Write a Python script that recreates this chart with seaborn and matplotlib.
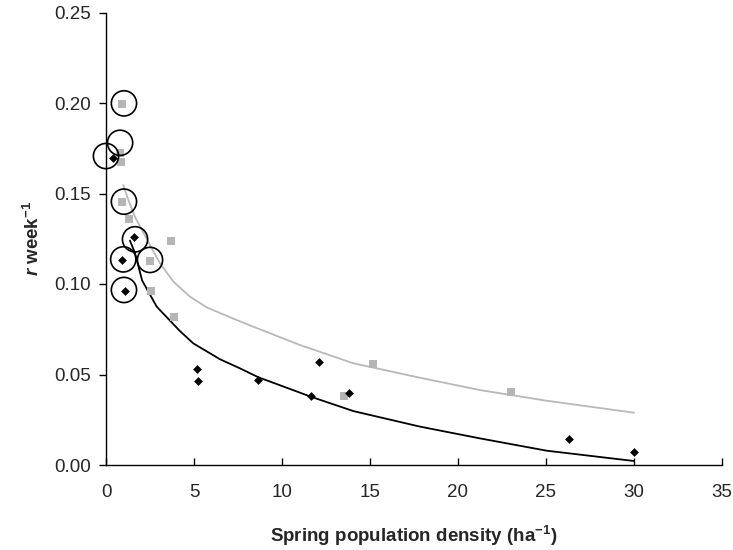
import matplotlib
matplotlib.use("Agg")
import matplotlib.pyplot as plt
import seaborn as sns
from matplotlib.ticker import FormatStrFormatter

# ---- data ----
gray_x = [0.93, 0.80, 0.87, 0.93, 1.32, 3.71, 2.52, 2.57, 3.88, 15.19, 13.54, 23.03]
gray_y = [0.1994, 0.1725, 0.1674, 0.1453, 0.1357, 0.1239, 0.1129, 0.0963, 0.0819, 0.0558, 0.0383, 0.0402]

black_x = [0.41, 1.61, 0.93, 1.06, 5.15, 5.24, 8.62, 12.12, 11.65, 13.82, 26.32, 30.0]
black_y = [0.1696, 0.1261, 0.1133, 0.0961, 0.0530, 0.0462, 0.0470, 0.0569, 0.0383, 0.0398, 0.0145, 0.0073]

circle_x = [1.02, 0.80, 0.00, 1.02, 1.65, 0.98, 2.50, 1.02]
circle_y = [0.1998, 0.1780, 0.1707, 0.1455, 0.1247, 0.1136, 0.1133, 0.0967]

gray_curve_x = [0.98, 1.27, 1.65, 2.5, 3.07, 3.83, 4.77, 5.72, 7.05, 8.37, 11.02, 14.05, 17.84, 21.25, 25.04, 30.0]
gray_curve_y = [0.1547, 0.1464, 0.137, 0.1215, 0.1114, 0.1013, 0.093, 0.0871, 0.0816, 0.0764, 0.0663, 0.0562, 0.0482, 0.0414, 0.0355, 0.0289]

black_curve_x = [1.36, 1.65, 2.05, 2.88, 4.2, 4.96, 6.48, 7.61, 8.65, 11.65, 14.05, 17.84, 21.25, 25.04, 30.0]
black_curve_y = [0.124, 0.117, 0.102, 0.0875, 0.074, 0.0672, 0.0584, 0.0534, 0.0485, 0.0377, 0.0298, 0.0212, 0.0147, 0.0079, 0.0022]

x_ticks = [0, 5, 10, 15, 20, 25, 30, 35]
y_ticks = [0.00, 0.05, 0.10, 0.15, 0.20, 0.25]

# ---- style ----
sns.set_theme(style="white")
plt.rcParams['font.family'] = ['Liberation Sans', 'DejaVu Sans']
plt.rcParams['mathtext.fontset'] = 'custom'
plt.rcParams['mathtext.rm'] = 'Liberation Sans:bold'
plt.rcParams['mathtext.it'] = 'Liberation Sans:italic:bold'
plt.rcParams['mathtext.bf'] = 'Liberation Sans:bold'

fig = plt.figure(figsize=(7.33, 5.5), dpi=100)
ax = fig.add_axes([106 / 733, 1 - 465 / 550, (722 - 106) / 733, (465 - 12.5) / 550])

gray = "#b5b5b5"

sns.lineplot(x=gray_curve_x, y=gray_curve_y, ax=ax, color="#b8b8b8", lw=1.3, sort=False, zorder=2)
sns.lineplot(x=black_curve_x, y=black_curve_y, ax=ax, color="black", lw=1.3, sort=False, zorder=2)

sns.scatterplot(x=gray_x, y=gray_y, ax=ax, marker="s", s=28, color=gray, edgecolor=gray, linewidth=0, zorder=3)
sns.scatterplot(x=black_x, y=black_y, ax=ax, marker="D", s=20, color="black", edgecolor="black", linewidth=0, zorder=3)

sns.scatterplot(x=circle_x, y=circle_y, ax=ax, marker="o", s=330, facecolor="none",
                edgecolor="black", linewidth=1.2, zorder=4)
for coll in ax.collections:
    coll.set_clip_on(False)

ax.set_xlim(0, 35)
ax.set_ylim(0, 0.25)
ax.set_xticks(x_ticks)
ax.set_yticks(y_ticks)
ax.yaxis.set_major_formatter(FormatStrFormatter('%.2f'))

for side in ['top', 'right']:
    ax.spines[side].set_visible(False)
for side in ['left', 'bottom']:
    ax.spines[side].set_color('black')
    ax.spines[side].set_linewidth(1.0)

ax.tick_params(axis='y', direction='out', length=5, width=1, color='black', labelsize=13.5, pad=6)
ax.tick_params(axis='x', direction='in', length=5, width=1, color='black', labelsize=13.5, pad=14)
ax.tick_params(axis='both', which='both', left=True, bottom=True)

ax.set_xlabel(r'Spring population density (ha$^{-1}$)', fontsize=13.5, fontweight='bold', labelpad=16)
ax.set_ylabel(r'$r$ week$^{-1}$', fontsize=13.5, fontweight='bold', labelpad=8)

fig.savefig("out.png", dpi=100)
